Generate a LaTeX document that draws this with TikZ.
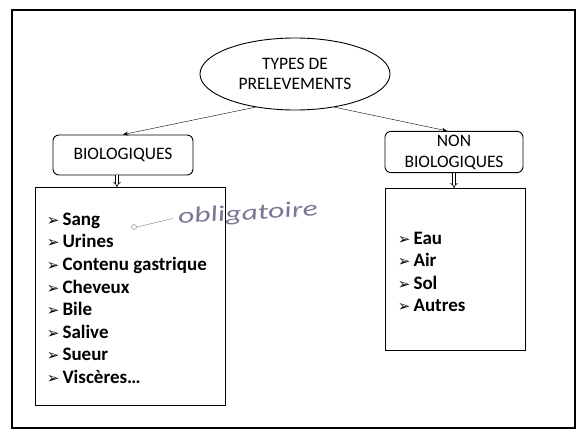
\documentclass[tikz,border=0pt]{standalone}
\usepackage{fontspec}
\setmainfont{Carlito}
\newfontfamily\symbfont{DejaVu Sans}
\usetikzlibrary{arrows.meta,
                positioning,
                shapes.geometric}
\newcommand{\puce}{{\symbfont\fontsize{15}{15}\selectfont ➢}\,}
\definecolor{stylo}{RGB}{120,120,150}

\begin{document}
\begin{tikzpicture}[x=1pt,y=-1pt,line width=0.9pt,double distance=2pt,
    titre/.style={draw,ellipse,minimum width=190pt,minimum height=72pt,align=center,font=\fontsize{17.5}{20}\selectfont},
    classe/.style={draw,rounded corners=6pt,align=center,minimum height=40pt,font=\fontsize{17.5}{21}\selectfont},
    liste/.style={draw,anchor=north west},
    items/.style={anchor=north west,align=left,font=\bfseries\fontsize{19}{22.6}\selectfont},
    lien/.style={thin,-{Stealth[length=5pt,width=4pt]}},
    descente/.style={semithick,double,-{Implies[]}}]
    \useasboundingbox (0,0) rectangle (580,434);
    \draw[line width=1.6pt] (12,10) rectangle (575,428);
    \node [titre] (racine) at (295,74) {TYPES DE\\PRELEVEMENTS};
    \node [classe,minimum width=140pt] (bio) at (123,155) {BIOLOGIQUES};
    \node [classe,minimum width=138pt] (nonbio) at (454,152) {NON\\BIOLOGIQUES};
    \node [liste,minimum width=190pt,minimum height=218pt] (listebio) at (35,187) {};
    \node [liste,minimum width=140pt,minimum height=162pt] (listenonbio) at (385,188) {};
    \node [items] (itemsbio) at (43,209) {\puce Sang\\\puce Urines\\\puce Contenu gastrique\\\puce Cheveux\\\puce Bile\\\puce Salive\\\puce Sueur\\\puce Viscères…};
    \node [items] (itemsnonbio) at (394,228) {\puce Eau\\\puce Air\\\puce Sol\\\puce Autres};
    % liens
    \draw [lien] (racine.220) -- (bio.north);
    \draw [lien] (racine.320) -- (nonbio.north -| 447,0);
    \draw [descente] (bio.south -| 117,0) -- (listebio.north -| 117,0);
    \draw [descente] (nonbio.south) -- (listenonbio.north -| nonbio.south);
    % annotation au stylo
    \node [stylo,font=\itshape\fontsize{22}{22}\selectfont,xscale=1.45,rotate=5] (note) at (248,214) {obligatoire};
    \draw [stylo,thin] (134,227) circle (2.5pt) (137,227) -- (note.west);
\end{tikzpicture}
\end{document}
